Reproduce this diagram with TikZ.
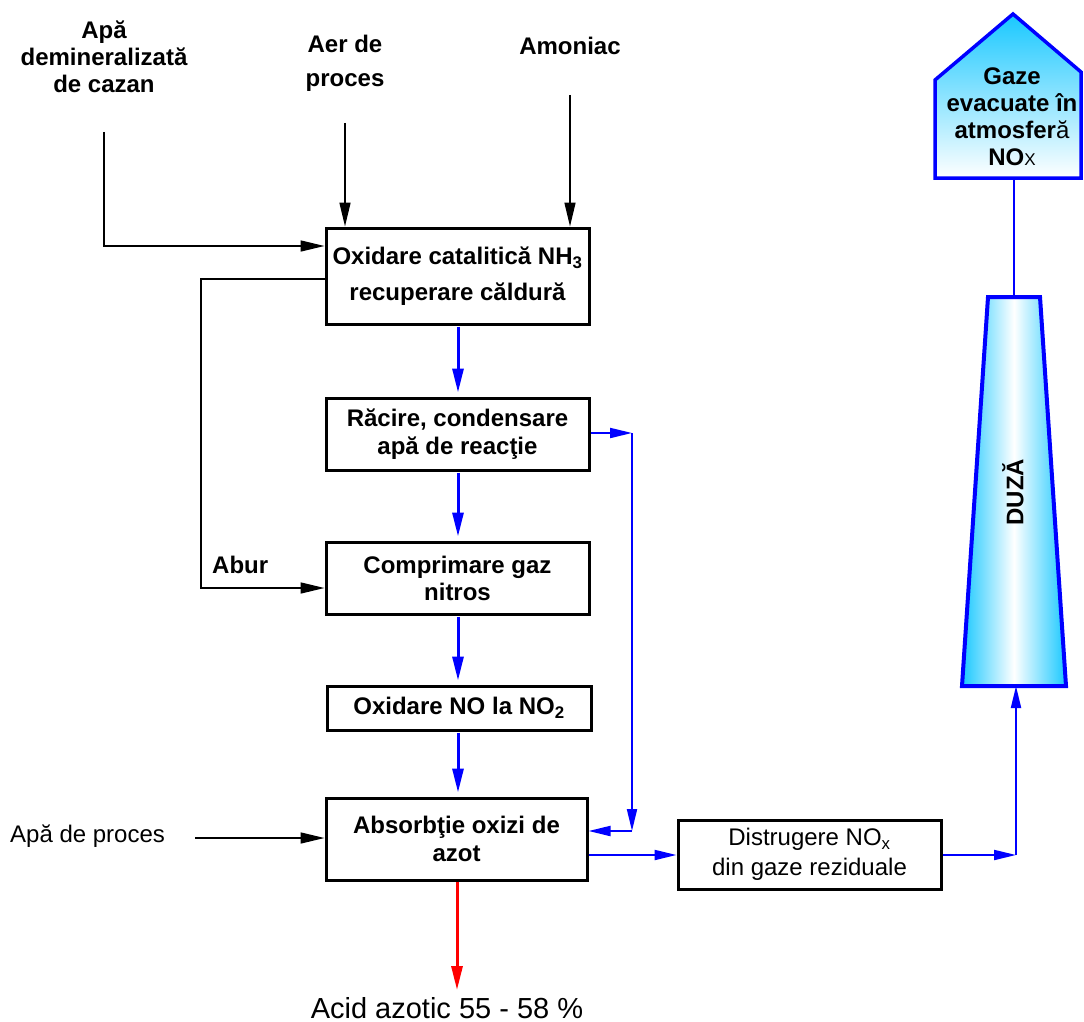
\documentclass[tikz,border=0pt]{standalone}
\usepackage{fontspec}
\setmainfont{Liberation Sans}
\usetikzlibrary{arrows.meta}
\definecolor{bblue}{RGB}{0,0,255}
\definecolor{skyc}{RGB}{25,200,255}
\begin{document}
\begin{tikzpicture}[x=1pt,y=-1pt,
  box/.style={draw, line width=3pt, minimum width=263pt, inner sep=0pt, align=center,
    font=\bfseries\fontsize{24}{28}\selectfont},
  lbl/.style={align=center, inner sep=0pt, font=\bfseries\fontsize{24}{27}\selectfont},
  blk/.style={line width=1.6pt, -{Triangle[length=24pt,width=11pt]}},
  bthick/.style={draw=bblue, line width=3pt, -{Triangle[length=24pt,width=11pt]}, shorten <=1pt, shorten >=4pt},
  bthin/.style={draw=bblue, line width=2pt, -{Triangle[length=22pt,width=10pt]}},
  redarr/.style={draw=red, line width=3pt, -{Triangle[length=24pt,width=11pt]}}
]
\clip (0,0) rectangle (1084,1022);
\fill[white] (0,0) rectangle (1084,1022);

% boxes
\node[box, minimum height=96pt] (b1) at (457.5,276) {Oxidare catalitică NH\textsubscript{3}\\[8pt]recuperare căldură};
\node[box, minimum height=72pt] (b2) at (457.5,434) {Răcire, condensare\\apă de reacţie};
\node[box, minimum height=72pt, font=\bfseries\fontsize{24}{27}\selectfont] (b3) at (457.5,578) {Comprimare gaz\\nitros};
\node[box, minimum height=44pt, minimum width=264pt] (b4) at (459,708) {Oxidare NO la NO\textsubscript{2}};
\node[box, minimum height=82pt, minimum width=261pt] (b5) at (456.5,839) {Absorbţie oxizi de\\azot};
\node[box, minimum height=69pt, font=\fontsize{24}{30}\selectfont] (b6) at (809.5,854.5) {Distrugere NO\textsubscript{x}\\din gaze reziduale};

% top labels
\node[lbl] (l1) at (104,57) {Apă\\demineralizată\\de cazan};
\node[lbl, font=\bfseries\fontsize{24}{34}\selectfont] (l2) at (345,63) {Aer de\\proces};
\node[lbl] (l3) at (570,46) {Amoniac};
\node[lbl, anchor=base west] (abur) at (212,573) {Abur};
\node[inner sep=0pt, anchor=base west, font=\fontsize{24}{27}\selectfont] (apaproc) at (10,842) {Apă de proces};
\node[inner sep=0pt, anchor=base, font=\fontsize{29}{33}\selectfont] (acid) at (447,1018) {Acid azotic 55 - 58 \%};

% coordinates
\coordinate (s1) at (104,132);
\coordinate (k1) at (104,246);
\coordinate (s2) at (345,123);
\coordinate (s3) at (570,95);
\coordinate (k2) at (201,279);
\coordinate (k3) at (201,588);
\coordinate (s4) at (195,838);
\coordinate (c1) at (632,433);
\coordinate (c2) at (632,831);
\coordinate (c3) at (1016,855);
\coordinate (duzabot) at (1016,686);
\coordinate (duzatop) at (1014,297);
\coordinate (housebot) at (1014,178);
\coordinate (acidtip) at (457,990);

% black connectors
\draw[blk] (s1) -- (k1) -- (b1.west |- k1);
\draw[blk] (s2) -- (b1.north -| s2);
\draw[blk] (s3) -- (b1.north -| s3);
\draw[blk] (b1.west |- k2) -- (k2) -- (k3) -- (b3.west |- k3);
\draw[blk] (s4) -- (b5.west |- s4);

% blue main line
\draw[bthick] (b1.south -| 458,0) -- (b2.north -| 458,0);
\draw[bthick] (b2.south -| 458,0) -- (b3.north -| 458,0);
\draw[bthick] (b3.south -| 458,0) -- (b4.north -| 458,0);
\draw[bthick] (b4.south -| 458,0) -- (b5.north -| 458,0);

% recycle loop
\draw[bthin] (b2.east |- c1) -- (c1);
\draw[bthin] (c1) -- (c2);
\draw[bthin] (c2) -- (b5.east |- c2);

% to destruction and stack
\draw[bthin] (b5.east |- c3) -- (b6.west |- c3);
\draw[bthin] (b6.east |- c3) -- (c3);
\draw[bthin] (c3) -- (duzabot);
\draw[draw=bblue, line width=2pt] (duzatop) -- (housebot);

% red product
\draw[redarr] (b5.south -| acidtip) -- (acidtip);

% nozzle
\draw[draw=bblue, line width=4pt, line join=miter, left color=skyc, right color=skyc, middle color=white]
  (988,297) -- (1040,297) -- (1066,686) -- (962,686) -- cycle;
\node[lbl, rotate=90] (duza) at (1013,492) {DUZĂ};

% house
\draw[draw=bblue, line width=3.5pt, line join=miter, top color=skyc, bottom color=white]
  (935,178) -- (935,80) -- (1013,14) -- (1081,72) -- (1081,178) -- cycle;
\node[lbl] (gaze) at (1012,117) {Gaze\\evacuate în\\atmosfer{\mdseries ă}\\NO{\mdseries\fontsize{17}{20}\selectfont X}};
\end{tikzpicture}
\end{document}
